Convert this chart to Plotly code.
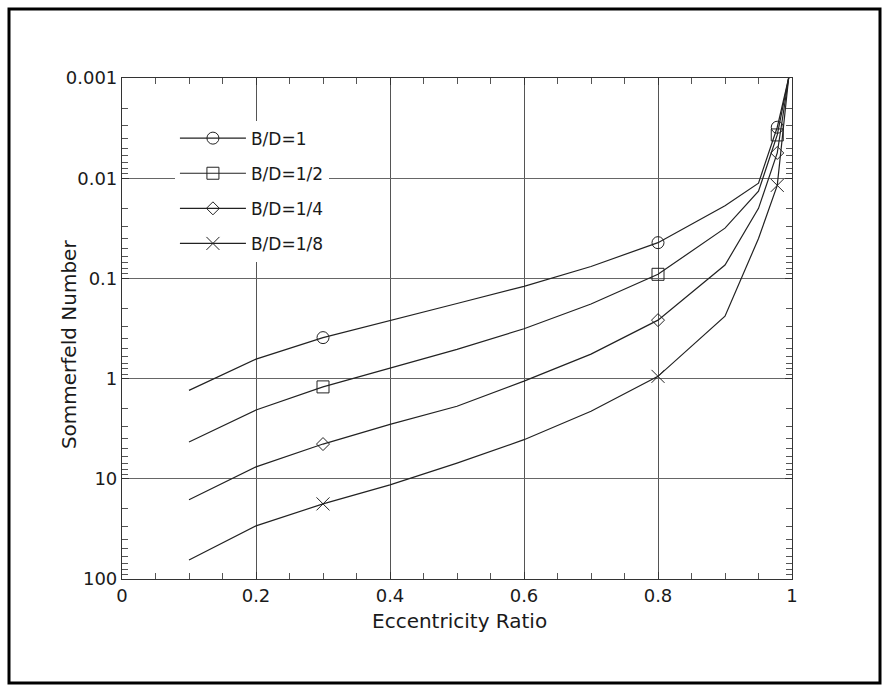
import plotly.graph_objects as go

# ---- data ----
ecc = [0.1, 0.2, 0.3, 0.4, 0.5, 0.6, 0.7, 0.8, 0.9, 0.95, 0.978, 0.995]
s_bd_1 = [1.31, 0.64, 0.39, 0.265, 0.178, 0.12, 0.076, 0.044, 0.0188, 0.0112, 0.0031, 0.001]
s_bd_1_2 = [4.3, 2.06, 1.21, 0.78, 0.51, 0.318, 0.18, 0.091, 0.0315, 0.0135, 0.0037, 0.001]
s_bd_1_4 = [16.2, 7.6, 4.5, 2.86, 1.89, 1.06, 0.57, 0.261, 0.0736, 0.020, 0.0056, 0.001]
s_bd_1_8 = [64.6, 29.5, 17.8, 11.5, 6.97, 4.07, 2.12, 0.95, 0.238, 0.040, 0.0118, 0.001]
marker_idx = [2, 7, 10]

names = ["B/D=1", "B/D=1/2", "B/D=1/4", "B/D=1/8"]
series = [s_bd_1, s_bd_1_2, s_bd_1_4, s_bd_1_8]
symbols = ["circle-open", "square-open", "diamond-open", "x-thin-open"]
sizes = [12, 12, 10, 13]

y_tickvals = [0.001, 0.01, 0.1, 1, 10, 100]
y_ticktext = ["0.001", "0.01", "0.1", "1", "10", "100"]
x_tickvals = [0, 0.2, 0.4, 0.6, 0.8, 1]
x_ticktext = ["0", "0.2", "0.4", "0.6", "0.8", "1"]

LINE = "#222222"
FONT = "DejaVu Sans"
TXT = "#1a1a1a"

fig = go.Figure()
for name, s, sym, sz in zip(names, series, symbols, sizes):
    fig.add_trace(go.Scatter(x=ecc, y=s, mode="lines", showlegend=False,
                             line=dict(color=LINE, width=1.2), hoverinfo="skip"))
    fig.add_trace(go.Scatter(x=[ecc[i] for i in marker_idx], y=[s[i] for i in marker_idx],
                             mode="markers", showlegend=False,
                             marker=dict(symbol=sym, size=sz, color=LINE,
                                         line=dict(color=LINE, width=1))))
    fig.add_trace(go.Scatter(x=[None], y=[None], mode="lines+markers", name=name,
                             legendgroup=name,
                             line=dict(color=LINE, width=1.2),
                             marker=dict(symbol=sym, size=sz, color=LINE,
                                         line=dict(color=LINE, width=1))))

minor_y = [m * 10 ** e for e in range(-3, 2) for m in range(2, 10)]

fig.update_xaxes(range=[0, 1], tickvals=x_tickvals, ticktext=x_ticktext,
                 showgrid=True, gridcolor="#555555", gridwidth=1,
                 ticks="inside", ticklen=7, tickcolor="#333",
                 minor=dict(dtick=0.05, ticks="inside", ticklen=6, tickcolor="#555", showgrid=False),
                 showline=True, linecolor="#333", linewidth=1.2, mirror="ticks",
                 zeroline=False, tickfont=dict(family=FONT, size=18, color=TXT))
fig.update_yaxes(type="log", range=[2, -3], tickvals=y_tickvals, ticktext=y_ticktext,
                 showgrid=True, gridcolor="#666666", gridwidth=1,
                 ticks="inside", ticklen=7, tickcolor="#333",
                 minor=dict(tickmode="array", tickvals=minor_y, ticks="inside", ticklen=6,
                            tickcolor="#555", showgrid=False),
                 showline=True, linecolor="#333", linewidth=1.2, mirror="ticks",
                 zeroline=False, tickfont=dict(family=FONT, size=18, color=TXT))

fig.update_layout(
    width=887, height=691,
    margin=dict(l=122, r=95, t=78, b=112),
    paper_bgcolor="white", plot_bgcolor="white",
    font=dict(family=FONT, color=TXT),
    showlegend=True,
    legend=dict(x=0.079, y=0.915, xanchor="left", yanchor="top",
                bgcolor="white", borderwidth=0, itemwidth=66,
                font=dict(family=FONT, size=17, color=TXT),
                tracegroupgap=10),
    annotations=[
        dict(text="Eccentricity Ratio", xref="paper", yref="paper", x=0.504, y=-0.084,
             showarrow=False, xanchor="center", yanchor="middle",
             font=dict(family=FONT, size=20, color=TXT)),
        dict(text="Sommerfeld Number", xref="paper", yref="paper", x=-0.079, y=0.467,
             showarrow=False, xanchor="center", yanchor="middle", textangle=-90,
             font=dict(family=FONT, size=20, color=TXT)),
    ],
    shapes=[dict(type="rect", xref="paper", yref="paper",
                 x0=(9 - 122) / 670, x1=(880 - 122) / 670,
                 y0=(579 - 683) / 501, y1=(579 - 9) / 501,
                 line=dict(color="black", width=3))],
)

fig.write_html("out.html")
